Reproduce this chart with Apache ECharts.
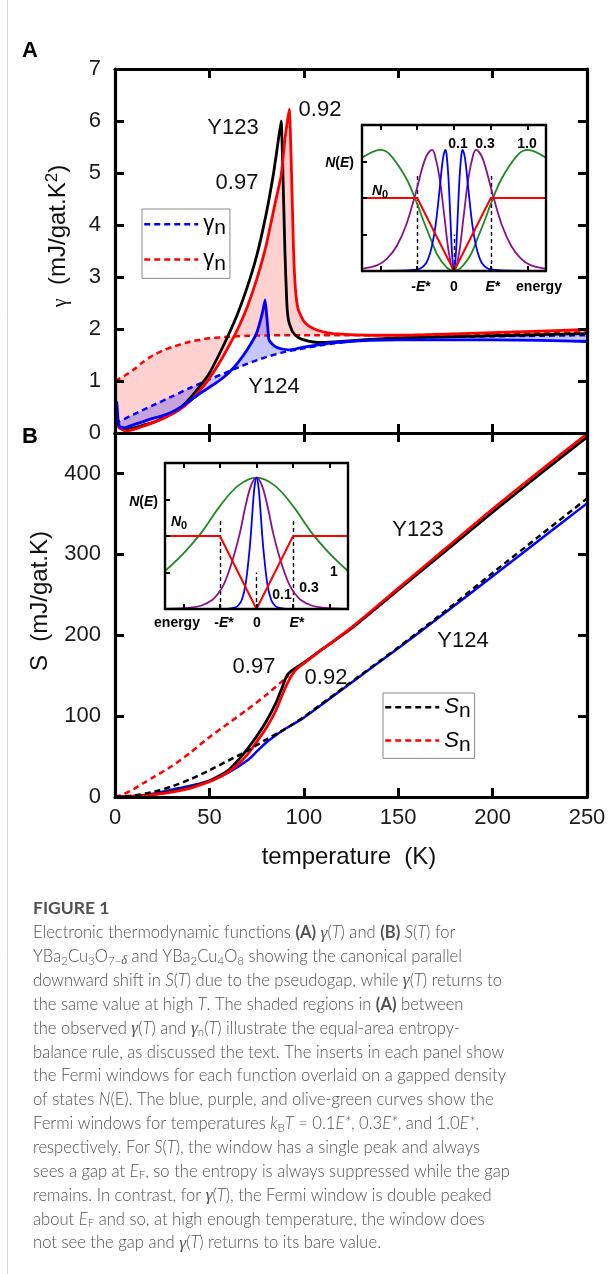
<!DOCTYPE html>
<html><head><meta charset="utf-8">
<script src="https://cdn.jsdelivr.net/npm/echarts@6.0.0/dist/echarts.min.js"></script>
<style>html,body{margin:0;padding:0;background:#fff;}#chart{width:614px;height:1274px;}</style>
</head><body><div id="chart"></div>
<script>
// ================= DATA =================
const tempTicks = [0, 50, 100, 150, 200, 250];
const gammaTicks = [0, 1, 2, 3, 4, 5, 6, 7];
const entropyTicks = [0, 100, 200, 300, 400];
const energyTicks = [-2, -1, 0, 1, 2];
const dosTicks = [0.5, 1, 1.5];

// Panel A : gamma(T), mJ/gat.K^2
const tG_097 = [1, 2, 4, 6, 10, 15, 20, 25, 30, 35, 40, 45, 50, 55, 60, 65, 70, 75, 80, 84, 86, 88, 89, 90, 91, 92, 94, 97, 100, 105, 110, 120, 135, 150, 175, 200, 225, 250];
const g_097  = [0.18, 0.12, 0.08, 0.07, 0.1, 0.15, 0.2, 0.28, 0.38, 0.5, 0.68, 0.9, 1.15, 1.5, 1.88, 2.3, 2.8, 3.4, 4.2, 5.0, 5.5, 6.0, 4.9, 3.5, 2.5, 2.15, 1.95, 1.84, 1.79, 1.75, 1.74, 1.76, 1.8, 1.83, 1.85, 1.87, 1.89, 1.91];
const tG_092 = [1, 3, 6, 10, 15, 20, 25, 30, 35, 40, 45, 50, 55, 60, 65, 70, 75, 80, 85, 88, 90, 92.3, 93.5, 94.5, 95.5, 97, 100, 103, 107, 112, 120, 135, 150, 175, 200, 225, 250];
const g_092  = [0.15, 0.08, 0.04, 0.07, 0.13, 0.2, 0.27, 0.36, 0.47, 0.62, 0.82, 1.05, 1.33, 1.65, 2.0, 2.42, 2.95, 3.6, 4.45, 4.95, 5.65, 6.23, 5.0, 3.6, 2.8, 2.38, 2.15, 2.05, 1.98, 1.93, 1.9, 1.88, 1.88, 1.9, 1.93, 1.96, 1.99];
const tG_124 = [0.5, 1, 1.5, 2.5, 5, 10, 15, 20, 25, 30, 35, 40, 45, 50, 55, 60, 65, 70, 75, 78, 79.5, 80.5, 81.5, 83, 85, 88, 92, 96, 100, 105, 110, 120, 135, 150, 175, 200, 225, 250];
const g_124  = [0.15, 0.6, 0.3, 0.12, 0.1, 0.16, 0.22, 0.28, 0.33, 0.4, 0.5, 0.63, 0.76, 0.88, 1.0, 1.15, 1.35, 1.6, 1.92, 2.3, 2.56, 2.2, 1.8, 1.72, 1.66, 1.62, 1.6, 1.62, 1.65, 1.68, 1.71, 1.75, 1.78, 1.79, 1.79, 1.79, 1.78, 1.76];
const tGn_124 = [0, 10, 20, 30, 40, 50, 60, 70, 80, 90, 100, 115, 130, 150, 175, 200, 225, 250];
const gn_124  = [0.18, 0.36, 0.53, 0.7, 0.87, 1.03, 1.18, 1.33, 1.46, 1.56, 1.63, 1.72, 1.78, 1.82, 1.85, 1.86, 1.87, 1.88];
const tGn_123 = [0, 5, 10, 15, 20, 25, 30, 40, 50, 60, 70, 80, 90, 100, 125, 150, 175, 200, 225, 250];
const gn_123  = [1.0, 1.1, 1.22, 1.37, 1.49, 1.58, 1.65, 1.76, 1.82, 1.85, 1.87, 1.875, 1.88, 1.88, 1.88, 1.88, 1.89, 1.9, 1.92, 1.94];

// Panel B : S(T), mJ/gat.K
const tS_097 = [0, 10, 20, 30, 40, 50, 55, 60, 65, 70, 75, 80, 85, 88, 91, 93, 96, 100, 110, 125, 150, 175, 200, 225, 250];
const s_097  = [0, 1, 3, 7, 12, 20, 26, 33, 45, 59, 75, 93, 115, 132, 150, 155, 160, 166, 183, 208, 256, 304, 352, 399, 445];
const tS_092 = [0, 10, 20, 30, 40, 50, 55, 60, 65, 70, 75, 80, 85, 90, 93, 95, 97, 100, 110, 125, 150, 175, 200, 225, 250];
const s_092  = [0, 1, 3, 6, 11, 19, 24, 31, 40, 52, 68, 85, 106, 134, 148, 155, 160, 165, 183, 209, 258, 307, 356, 403, 449];
const tSn_123 = [0, 5, 10, 15, 20, 30, 40, 50, 60, 70, 80, 90, 92];
const sn_123  = [0, 4, 10, 17, 24, 38, 55, 74, 91, 108, 126, 146, 150];
const tSn_124 = [0, 10, 20, 30, 40, 50, 60, 70, 80, 90, 100, 125, 150, 175, 200, 225, 250];
const sn_124  = [0, 2, 6, 13, 22, 33, 45, 57, 71, 84, 99, 142, 185, 230, 277, 323, 369];
const tS_124 = [0, 10, 20, 30, 40, 50, 60, 70, 75, 80, 85, 90, 100, 125, 150, 175, 200, 225, 250];
const s_124  = [0, 1, 4, 9, 14, 20, 30, 45, 56, 67, 76, 84, 98, 141, 184, 228, 273, 318, 363];

// Insets : gapped DOS and Fermi windows (energy in units of E*, N in units of N0)
const dosE = [-2.5, -1, 0, 1, 2.5];
const dosN = [1, 1, 0, 1, 1];
const gapEdges = [-1, 1];
const gapDashTopA = 1.3, gapDashTopB = 1.22, centreDashTop = 0.5;
// gamma windows (inset A)
const eWinG01 = [-2.5, -1, -0.8, -0.7, -0.6, -0.5, -0.4, -0.3, -0.23, -0.2, -0.15, -0.1, -0.05, 0, 0.05, 0.1, 0.15, 0.2, 0.23, 0.3, 0.4, 0.5, 0.6, 0.7, 0.8, 1, 2.5];
const winG01  = [0, 0.02, 0.08, 0.17, 0.34, 0.63, 1.07, 1.54, 1.66, 1.59, 1.27, 0.74, 0.22, 0, 0.22, 0.74, 1.27, 1.59, 1.66, 1.54, 1.07, 0.63, 0.34, 0.17, 0.08, 0.02, 0];
const eWinG03 = [-2.5, -2.08, -1.82, -1.56, -1.3, -1.04, -0.78, -0.6, -0.52, -0.39, -0.26, -0.13, 0, 0.13, 0.26, 0.39, 0.52, 0.6, 0.78, 1.04, 1.3, 1.56, 1.82, 2.08, 2.5];
const winG03  = [0.03, 0.08, 0.17, 0.34, 0.63, 1.07, 1.54, 1.66, 1.59, 1.27, 0.74, 0.22, 0, 0.22, 0.74, 1.27, 1.59, 1.66, 1.54, 1.07, 0.63, 0.34, 0.17, 0.08, 0.03];
const eWinG10 = [-2.5, -2.0, -1.75, -1.3, -1.0, -0.87, -0.65, -0.45, -0.2, 0, 0.2, 0.45, 0.65, 0.87, 1.0, 1.3, 1.75, 2.0, 2.5];
const winG10  = [1.55, 1.66, 1.6, 1.27, 0.92, 0.74, 0.46, 0.22, 0.05, 0, 0.05, 0.22, 0.46, 0.74, 0.92, 1.27, 1.6, 1.66, 1.55];
// entropy windows (inset B)
const eWinS01 = [-2.5, -0.8, -0.6, -0.5, -0.4, -0.3, -0.2, -0.15, -0.1, -0.05, 0, 0.05, 0.1, 0.15, 0.2, 0.3, 0.4, 0.5, 0.6, 0.8, 2.5];
const winS01  = [0, 0.002, 0.018, 0.048, 0.127, 0.33, 0.76, 1.05, 1.41, 1.69, 1.8, 1.69, 1.41, 1.05, 0.76, 0.33, 0.127, 0.048, 0.018, 0.002, 0];
const eWinS03 = [-2.5, -1.8, -1.5, -1.2, -1.05, -0.9, -0.75, -0.6, -0.45, -0.3, -0.15, 0, 0.15, 0.3, 0.45, 0.6, 0.75, 0.9, 1.05, 1.2, 1.5, 1.8, 2.5];
const winS03  = [0.002, 0.018, 0.048, 0.127, 0.21, 0.33, 0.52, 0.76, 1.05, 1.41, 1.69, 1.8, 1.69, 1.41, 1.05, 0.76, 0.52, 0.33, 0.21, 0.127, 0.048, 0.018, 0.002];
const eWinS10 = [-2.5, -2, -1.5, -1, -0.5, 0, 0.5, 1, 1.5, 2, 2.5];
const winS10  = [0.52, 0.76, 1.05, 1.41, 1.69, 1.8, 1.69, 1.41, 1.05, 0.76, 0.52];

// Caption text
const captionTitle = 'FIGURE 1';
const captionLines = [
  'Electronic thermodynamic functions {b|(A)} {g|γ}({i|T}) and {b|(B)} {i|S}({i|T}) for',
  'YBa{s|2}Cu{s|3}O{s|7−}{sg|δ} and YBa{s|2}Cu{s|4}O{s|8} showing the canonical parallel',
  'downward shift in {i|S}({i|T}) due to the pseudogap, while {g|γ}({i|T}) returns to',
  'the same value at high {i|T}. The shaded regions in {b|(A)} between',
  'the observed {g|γ}({i|T}) and {g|γ}{s|n}({i|T}) illustrate the equal-area entropy-',
  'balance rule, as discussed the text. The inserts in each panel show',
  'the Fermi windows for each function overlaid on a gapped density',
  'of states {i|N}(E). The blue, purple, and olive-green curves show the',
  'Fermi windows for temperatures {i|k}{s|B}{i|T} = 0.1{i|E*}, 0.3{i|E*}, and 1.0{i|E*},',
  'respectively. For {i|S}({i|T}), the window has a single peak and always',
  'sees a gap at {i|E}{s|F}, so the entropy is always suppressed while the gap',
  'remains. In contrast, for {g|γ}({i|T}), the Fermi window is double peaked',
  'about {i|E}{s|F} and so, at high enough temperature, the window does',
  'not see the gap and {g|γ}({i|T}) returns to its bare value.'
];

// ================= CHART =================
const zip = (xs, ys) => xs.map((x, i) => [x, ys[i]]);
const SANS = 'Liberation Sans';
const RED = '#ff0000', BLUE = '#0000ff', BLACK = '#000000', PURPLE = '#8b108b', GREEN = '#1f8a1f';

function band(xi, yi, xa, ya, xb, yb, color) {
  return {
    type: 'custom', xAxisIndex: xi, yAxisIndex: yi, z: 1, silent: true,
    data: [[xa[0], ya[0]]],
    renderItem: function (params, api) {
      const pts = [];
      for (let i = 0; i < xa.length; i++) pts.push(api.coord([xa[i], ya[i]]));
      for (let i = xb.length - 1; i >= 0; i--) pts.push(api.coord([xb[i], yb[i]]));
      return { type: 'polygon', shape: { points: pts, smooth: 0 }, style: { fill: color } };
    }
  };
}
function line(name, xi, yi, data, color, width, dash, z, smooth) {
  return {
    type: 'line', name: name, xAxisIndex: xi, yAxisIndex: yi, data: data,
    symbol: 'none', showSymbol: false, z: z || 2, silent: true,
    smooth: smooth == null ? 0.25 : smooth,
    lineStyle: { color: color, width: width, type: dash || 'solid', cap: 'butt', join: 'round' },
    itemStyle: { color: color }
  };
}
const axLine = (w) => ({ show: true, onZero: false, lineStyle: { color: '#000', width: w } });

function mainX(grid, pos, labels) {
  return {
    type: 'value', gridIndex: grid, position: pos, min: 0, max: 250, z: 4,
    axisLine: axLine(3.2),
    axisTick: { show: true, inside: true, length: 9, customValues: tempTicks, lineStyle: { color: '#000', width: 3 } },
    axisLabel: { show: labels, customValues: tempTicks, margin: 10, fontSize: 22, fontFamily: SANS, color: '#1a1a1a' },
    splitLine: { show: false }
  };
}
function mainY(grid, pos, max, ticks, labels) {
  return {
    type: 'value', gridIndex: grid, position: pos, min: 0, max: max, z: 4,
    axisLine: axLine(3.2),
    axisTick: { show: true, inside: true, length: 9, customValues: ticks, lineStyle: { color: '#000', width: 3 } },
    axisLabel: { show: labels, customValues: ticks, margin: 14, fontSize: 22, fontFamily: SANS, color: '#1a1a1a' },
    splitLine: { show: false }
  };
}
function insetX(grid, pos) {
  return {
    type: 'value', gridIndex: grid, position: pos, min: -2.5, max: 2.5, z: 8,
    axisLine: axLine(2.4),
    axisTick: { show: true, inside: true, length: 5, customValues: energyTicks, lineStyle: { color: '#000', width: 2 } },
    axisLabel: { show: false }, splitLine: { show: false }
  };
}
function insetY(grid, pos, ticks) {
  return {
    type: 'value', gridIndex: grid, position: pos, min: 0, max: 2, z: 8,
    axisLine: axLine(2.4),
    axisTick: { show: ticks, inside: true, length: 5, customValues: dosTicks, lineStyle: { color: '#000', width: 2 } },
    axisLabel: { show: false }, splitLine: { show: false }
  };
}
function dosSeries(xi, yi, top) {
  const s = line('dos' + xi, xi, yi, zip(dosE, dosN), RED, 2, 'solid', 7, false);
  s.markLine = {
    silent: true, symbol: ['none', 'none'], label: { show: false }, animation: false,
    lineStyle: { color: '#000', type: [4, 3], width: 1.4 },
    emphasis: { disabled: true },
    data: [
      [{ coord: [gapEdges[0], 0] }, { coord: [gapEdges[0], top] }],
      [{ coord: [gapEdges[1], 0] }, { coord: [gapEdges[1], top] }],
      [{ coord: [0, 0] }, { coord: [0, centreDashTop] }]
    ]
  };
  return s;
}

// text helpers
function txt(x, y, text, size, opt) {
  opt = opt || {};
  return {
    type: 'text', x: x, y: y, z: 100, silent: true, rotation: opt.rotation || 0,
    style: {
      text: text, fontSize: size, fontFamily: opt.family || SANS, fontWeight: opt.weight || 'normal',
      fontStyle: opt.style || 'normal', fill: opt.color || '#111',
      align: opt.align || 'center', textAlign: opt.align || 'center',
      verticalAlign: 'middle', textVerticalAlign: 'middle', rich: opt.rich
    }
  };
}
const f = (size, extra) => Object.assign({ fontSize: size, fontFamily: SANS, fontWeight: 'normal', fontStyle: 'normal', fill: '#111' }, extra || {});
const insetRich = {
  ib: f(14, { fontWeight: 'bold', fontStyle: 'italic', fill: '#000' }),
  b: f(14, { fontWeight: 'bold', fill: '#000' }),
  sb: f(11, { fontWeight: 'bold', fill: '#000', padding: [8, 0, 0, 0] })
};
const NE = '{ib|N}{b|(}{ib|E}{b|)}';
const N0 = '{ib|N}{sb|0}';
const mE = '{b|-}{ib|E}{b|*}';
const pE = '{ib|E}{b|*}';

const capFont = 'Lato';
const capCol = '#525252';
const CAP = 16.6;
const capRich = {
  b: { fontSize: CAP, fontFamily: capFont, fontWeight: 'bold', fill: capCol },
  i: { fontSize: CAP, fontFamily: capFont, fontWeight: 300, fontStyle: 'italic', fill: capCol },
  g: { fontSize: 17.5, fontFamily: 'Liberation Serif', fontStyle: 'italic', fill: capCol },
  s: { fontSize: 11.5, fontFamily: capFont, fontWeight: 300, fill: capCol, padding: [8, 0, 0, 0] },
  sg: { fontSize: 12.5, fontFamily: 'Liberation Serif', fontStyle: 'italic', fill: capCol, padding: [8, 0, 0, 0] }
};

const graphics = [
  { type: 'line', silent: true, shape: { x1: 7.5, y1: 0, x2: 7.5, y2: 1274 }, style: { stroke: '#d4d4d4', lineWidth: 1 } },
  txt(30, 51, 'A', 22, { weight: 'bold', color: '#000' }),
  txt(30, 437, 'B', 22, { weight: 'bold', color: '#000' }),
  // axis names
  txt(58, 236, '{g|γ}  (mJ/gat.K{p|2})', 24, { rotation: Math.PI / 2, rich: {
      g: f(20, { fontFamily: 'Liberation Serif', padding: [6, 0, 0, 0] }),
      p: f(17, { padding: [0, 0, 12, 0] }) } }),
  txt(40, 601, 'S  (mJ/gat.K)', 24, { rotation: Math.PI / 2 }),
  txt(349, 857, 'temperature  (K)', 24),
  // panel A annotations
  txt(233, 128, 'Y123', 22), txt(320, 110, '0.92', 22), txt(237, 183, '0.97', 22), txt(274, 387, 'Y124', 22),
  // panel B annotations
  txt(418, 530, 'Y123', 22), txt(463, 641, 'Y124', 22), txt(254, 667, '0.97', 22), txt(326, 678, '0.92', 22),
  // inset A labels
  txt(354, 163, NE, 14, { align: 'right', rich: insetRich }),
  txt(372, 191, N0, 14, { align: 'left', rich: insetRich }),
  txt(458, 144, '0.1', 14, { weight: 'bold', color: '#000' }),
  txt(485, 144, '0.3', 14, { weight: 'bold', color: '#000' }),
  txt(527, 144, '1.0', 14, { weight: 'bold', color: '#000' }),
  txt(421, 287, mE, 14, { rich: insetRich }),
  txt(454, 287, '0', 14, { weight: 'bold', color: '#000' }),
  txt(493, 287, pE, 14, { rich: insetRich }),
  txt(539, 287, 'energy', 14, { weight: 'bold', color: '#000' }),
  // inset B labels
  txt(158, 502, NE, 14, { align: 'right', rich: insetRich }),
  txt(171, 522, N0, 14, { align: 'left', rich: insetRich }),
  txt(177, 623, 'energy', 14, { weight: 'bold', color: '#000' }),
  txt(224, 623, mE, 14, { rich: insetRich }),
  txt(257, 623, '0', 14, { weight: 'bold', color: '#000' }),
  txt(297, 623, pE, 14, { rich: insetRich }),
  txt(282, 595, '0.1', 14, { weight: 'bold', color: '#000' }),
  txt(309, 588, '0.3', 14, { weight: 'bold', color: '#000' }),
  txt(334, 572, '1', 14, { weight: 'bold', color: '#000' }),
  // caption
  txt(33, 908, captionTitle, 17.5, { align: 'left', family: capFont, weight: 'bold', color: capCol })
];
captionLines.forEach((ln, i) => {
  graphics.push(txt(33, 933 + i * 23.85, ln, CAP, { align: 'left', family: capFont, weight: 300, color: capCol, rich: capRich }));
});

const legendRichA = {
  g: f(22, { fill: '#000' }),
  n: f(21, { fill: '#000', padding: [9, 0, 0, 0] })
};
const legendRichB = {
  s: f(22, { fontStyle: 'italic', fill: '#000' }),
  n: f(21, { fill: '#000', padding: [9, 0, 0, 0] })
};

const option = {
  animation: false,
  backgroundColor: '#fff',
  grid: [
    { left: 115, top: 69, width: 472, height: 364 },
    { left: 115, top: 433, width: 472, height: 364 },
    { left: 362, top: 125, width: 184, height: 146, show: true, backgroundColor: '#fff', borderWidth: 0, z: 5 },
    { left: 165, top: 463, width: 183, height: 146, show: true, backgroundColor: '#fff', borderWidth: 0, z: 5 }
  ],
  xAxis: [
    mainX(0, 'bottom', false), mainX(0, 'top', false),
    mainX(1, 'bottom', true), mainX(1, 'top', false),
    insetX(2, 'bottom'), insetX(2, 'top'),
    insetX(3, 'bottom'), insetX(3, 'top')
  ],
  yAxis: [
    mainY(0, 'left', 7, gammaTicks, true), mainY(0, 'right', 7, gammaTicks, false),
    mainY(1, 'left', 450, entropyTicks, true), mainY(1, 'right', 450, entropyTicks, false),
    insetY(2, 'left', true), insetY(2, 'right', false),
    insetY(3, 'left', true), insetY(3, 'right', false)
  ],
  legend: [
    {
      left: 142, top: 209, orient: 'vertical', data: ['gn124', 'gn123'], selectedMode: false,
      itemWidth: 54, itemHeight: 28, itemGap: 9, padding: [4, 4, 4, 1],
      borderColor: '#8a8a8a', borderWidth: 1, backgroundColor: '#fff',
      itemStyle: { opacity: 0 }, lineStyle: { width: 2.5 },
      formatter: () => '{g|γ}{n|n}', textStyle: { fontSize: 22, fontFamily: SANS, color: '#000', rich: legendRichA }
    },
    {
      left: 383, top: 693, orient: 'vertical', data: ['sn124', 'sn123'], selectedMode: false,
      itemWidth: 54, itemHeight: 28, itemGap: 7, padding: [3, 4, 3, 1],
      borderColor: '#8a8a8a', borderWidth: 1, backgroundColor: '#fff',
      itemStyle: { opacity: 0 }, lineStyle: { width: 2.5 },
      formatter: () => '{s|S}{n|n}', textStyle: { fontSize: 22, fontFamily: SANS, color: '#000', rich: legendRichB }
    }
  ],
  graphic: { elements: graphics },
  series: [
    // panel A fills
    band(0, 0, tG_092, g_092, tGn_123, gn_123, 'rgba(255,0,0,0.18)'),
    band(0, 0, tG_124, g_124, tGn_124, gn_124, 'rgba(0,0,255,0.22)'),
    // panel A lines
    line('gn123', 0, 0, zip(tGn_123, gn_123), RED, 2.5, [6, 4], 2),
    line('gn124', 0, 0, zip(tGn_124, gn_124), BLUE, 2.5, [6, 4], 2),
    line('g097', 0, 0, zip(tG_097, g_097), BLACK, 2.8, 'solid', 2, 0.15),
    line('g092', 0, 0, zip(tG_092, g_092), RED, 2.8, 'solid', 2, 0.15),
    line('g124', 0, 0, zip(tG_124, g_124), BLUE, 2.8, 'solid', 2, 0.15),
    // panel B lines
    line('sn123', 2, 2, zip(tSn_123, sn_123), RED, 2.5, [6, 4], 2),
    line('sn124', 2, 2, zip(tSn_124, sn_124), BLACK, 2.5, [6, 4], 3),
    line('s124', 2, 2, zip(tS_124, s_124), BLUE, 2.5),
    line('s097', 2, 2, zip(tS_097, s_097), BLACK, 2.8),
    line('s092', 2, 2, zip(tS_092, s_092), RED, 2.8),
    // inset A
    line('wg10', 4, 4, zip(eWinG10, winG10), GREEN, 1.8, 'solid', 7, 0.35),
    line('wg03', 4, 4, zip(eWinG03, winG03), PURPLE, 1.8, 'solid', 7, 0.35),
    line('wg01', 4, 4, zip(eWinG01, winG01), BLUE, 1.8, 'solid', 7, 0.35),
    dosSeries(4, 4, gapDashTopA),
    // inset B
    line('ws10', 6, 6, zip(eWinS10, winS10), GREEN, 1.8, 'solid', 7, 0.35),
    line('ws03', 6, 6, zip(eWinS03, winS03), PURPLE, 1.8, 'solid', 7, 0.35),
    line('ws01', 6, 6, zip(eWinS01, winS01), BLUE, 1.8, 'solid', 7, 0.35),
    dosSeries(6, 6, gapDashTopB)
  ]
};
const chart = echarts.init(document.getElementById('chart'), null, { renderer: 'canvas' });
chart.setOption(option);
</script>
</body></html>
